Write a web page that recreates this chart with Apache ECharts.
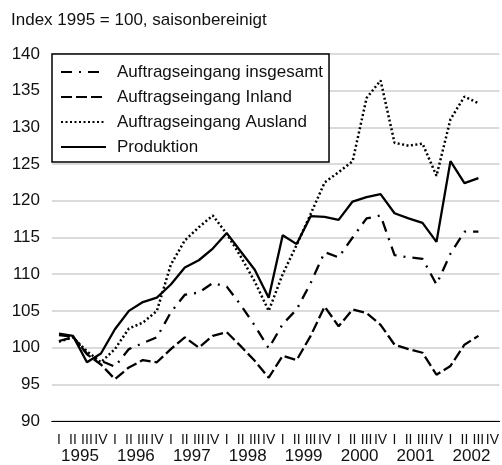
<!DOCTYPE html>
<html>
<head>
<meta charset="utf-8">
<script src="https://cdn.jsdelivr.net/npm/echarts@6/dist/echarts.min.js"></script>
<style>
html, body { margin: 0; padding: 0; background: #fff; }
#myChart { width: 502px; height: 465px; }
</style>
</head>
<body>
<div id="myChart"></div>
<script>
// Quartale 1995 I bis 2002 IV, Werte bis 2002 III
const years = ['1995', '1996', '1997', '1998', '1999', '2000', '2001', '2002']
const quarters = ['I', 'II', 'III', 'IV']
const yTicks = { min: 90, max: 140, step: 5 }

const insgesamt = [100.9, 101.4, 99.2, 98.2, 97.4, 99.8, 100.6, 101.4, 104.8, 107.2, 107.5, 108.8, 108.3, 105.8, 103.0, 99.9,
  103.2, 105.2, 108.8, 113.0, 112.3, 115.0, 117.6, 118.0, 112.6, 112.3, 112.1, 108.6, 112.8, 115.8, 115.8]
const inland = [101.7, 101.5, 99.1, 97.7, 95.7, 97.3, 98.3, 98.0, 99.8, 101.4, 100.0, 101.6, 102.1, 100.2, 98.2, 95.9,
  98.9, 98.3, 101.6, 105.6, 102.9, 105.2, 104.7, 103.1, 100.4, 99.8, 99.3, 96.3, 97.5, 100.4, 101.6]
const ausland = [100.8, 101.4, 99.5, 98.0, 99.8, 102.6, 103.4, 105.0, 111.3, 114.6, 116.4, 118.0, 115.5, 112.4, 109.0, 105.0,
  110.0, 114.0, 118.2, 122.5, 123.9, 125.4, 134.0, 136.4, 127.9, 127.5, 127.8, 123.4, 131.1, 134.2, 133.3]
const produktion = [101.9, 101.6, 98.0, 99.2, 102.5, 105.0, 106.2, 106.8, 108.6, 110.9, 111.9, 113.5, 115.6, 113.1, 110.6, 106.8,
  115.3, 114.1, 117.9, 117.8, 117.4, 119.9, 120.5, 120.9, 118.3, 117.6, 117.0, 114.4, 125.4, 122.4, 123.1]

const quarterCats = []
years.forEach(function (y) {
  quarters.forEach(function (q) { quarterCats.push(q) })
})

const font = 'Liberation Sans'
const ink = '#111'

let myChart = echarts.init(document.getElementById('myChart'), null, { renderer: 'canvas' })

function lineSeries(name, data, type, width) {
  return {
    name: name,
    type: 'line',
    data: data,
    symbol: 'none',
    lineStyle: { color: '#000', width: width, type: type, cap: 'butt' },
    itemStyle: { color: '#000' }
  }
}

myChart.setOption({
  animation: false,
  textStyle: { fontFamily: font },
  title: {
    text: 'Index 1995 = 100, saisonbereinigt',
    left: 11,
    top: 12,
    padding: 0,
    textStyle: { fontSize: 17, fontWeight: 'normal', color: ink, fontFamily: font }
  },
  legend: {
    left: 52,
    top: 54,
    orient: 'vertical',
    backgroundColor: '#fff',
    borderColor: '#000',
    borderWidth: 1.5,
    borderRadius: 0,
    padding: [8, 6, 5, 8],
    itemWidth: 45,
    itemHeight: 14,
    itemGap: 5,
    // no marker in the legend, only the line pattern
    itemStyle: { color: 'rgba(0,0,0,0)', borderColor: 'rgba(0,0,0,0)', borderWidth: 0 },
    textStyle: { fontSize: 17, lineHeight: 20, color: ink, fontFamily: font, padding: [0, 0, 0, 6] }
  },
  grid: { left: 52, right: 1, top: 54, bottom: 41 },
  xAxis: [
    {
      type: 'category',
      data: quarterCats,
      position: 'bottom',
      boundaryGap: true,
      axisLine: { lineStyle: { color: '#000', width: 1.2 } },
      axisTick: { interval: 0, length: 4, lineStyle: { color: '#000', width: 1.2 } },
      axisLabel: { interval: 0, fontSize: 14, margin: 12, color: ink, fontFamily: font },
      splitLine: { show: false }
    },
    {
      type: 'category',
      data: years,
      position: 'bottom',
      boundaryGap: true,
      axisLine: { lineStyle: { color: '#000', width: 1.2 } },
      axisTick: { interval: 0, length: 7, lineStyle: { color: '#000', width: 1.2 } },
      axisLabel: { interval: 0, fontSize: 17, margin: 27, color: ink, fontFamily: font },
      splitLine: { show: false }
    }
  ],
  yAxis: {
    type: 'value',
    min: yTicks.min,
    max: yTicks.max,
    interval: yTicks.step,
    axisLine: { show: false },
    axisTick: { show: false },
    axisLabel: { fontSize: 17, margin: 12, color: ink, fontFamily: font },
    splitLine: { lineStyle: { color: '#cfcfcf', width: 1.5 } }
  },
  series: [
    lineSeries('Auftragseingang insgesamt', insgesamt, [11, 7, 2, 7], 2.3),
    lineSeries('Auftragseingang Inland', inland, [11, 4], 2.3),
    lineSeries('Auftragseingang Ausland', ausland, [2, 2.5], 2.5),
    lineSeries('Produktion', produktion, 'solid', 2.3)
  ]
})
</script>
</body>
</html>
